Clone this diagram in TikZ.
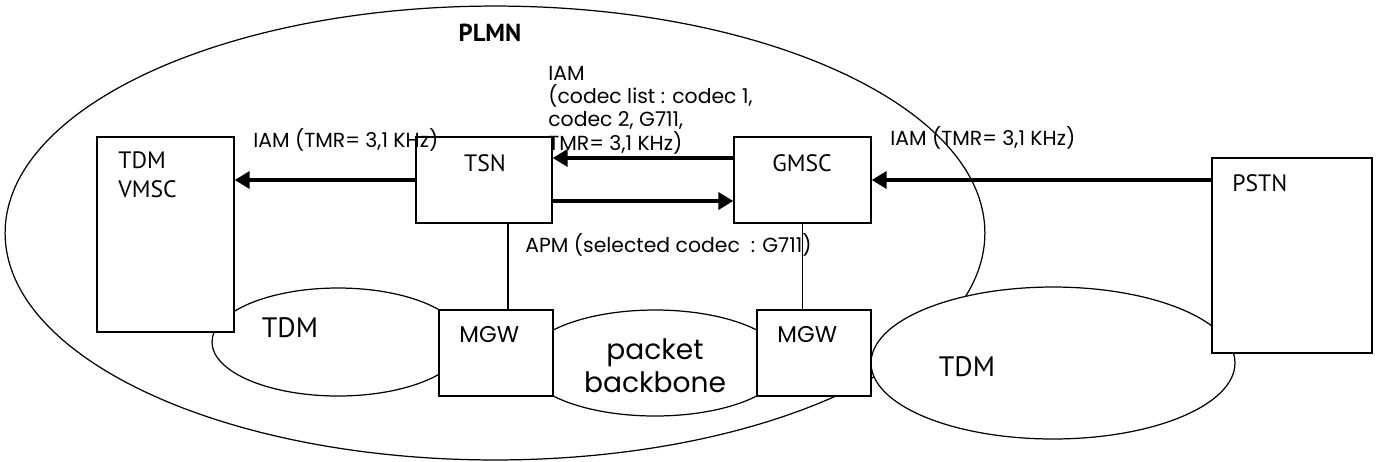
\documentclass[tikz,border=0pt]{standalone}
\usepackage{fontspec}
\setmainfont{Poppins}
\newfontfamily\condfont{PT Sans}
\usetikzlibrary{shapes.geometric, arrows.meta, positioning, calc}
\tikzset{
  unit/.style={rectangle, draw=black, fill=white, line width=0.8pt, inner sep=0pt},
  net/.style={ellipse, draw=black, fill=white, line width=0.7pt, inner sep=0pt},
  tag/.style={font=\condfont\fontsize{13.5}{16.5}\selectfont, align=left, inner sep=0pt},
  msg/.style={font=\fontsize{11.6}{13.2}\selectfont, align=left, inner sep=0pt, anchor=west},
  arrow/.style={-{Triangle[length=0.3cm, width=0.34cm]}, line width=2.8pt},
  link/.style={line width=0.6pt},
}
\begin{document}
\begin{tikzpicture}[x=0.02cm, y=-0.02cm]
\useasboundingbox (0,0) rectangle (1380,461);
\node[net, fill=none, minimum width=19.6cm, minimum height=9.08cm] (plmn) at (495,233) {};
\node[tag, font=\condfont\bfseries\fontsize{14}{16}\selectfont] (plmnt) at (490,33) {PLMN};
\node[net, minimum width=5.04cm, minimum height=2.16cm] (tdml) at (338,342) {};
\node[net, minimum width=5.2cm, minimum height=2.12cm] (pbb) at (655,363) {};
\node[net, minimum width=7.28cm, minimum height=3.04cm] (tdmr) at (1053,363) {};
\node[unit, minimum width=2.74cm, minimum height=3.9cm] (vmsc) at (165.5,234.5) {};
\node[unit, minimum width=2.72cm, minimum height=1.72cm] (tsn) at (484,180) {};
\node[unit, minimum width=2.74cm, minimum height=1.72cm] (gmsc) at (802.5,180) {};
\node[unit, minimum width=3.2cm, minimum height=3.9cm] (pstn) at (1292,255.5) {};
\node[unit, minimum width=2.28cm, minimum height=1.72cm] (mgwa) at (496,353) {};
\node[unit, minimum width=2.28cm, minimum height=1.72cm] (mgwb) at (814,353) {};
\node[tag, anchor=west] (vmsct) at (118,175) {TDM\\VMSC};
\node[tag] (tsnt) at (485,163) {TSN};
\node[tag] (gmsct) at (802,163) {GMSC};
\node[tag, anchor=west] (pstnt) at (1232,183) {PSTN};
\node[tag, font=\condfont\fontsize{16}{18}\selectfont] (tdmlt) at (290,328) {TDM};
\node[tag, font=\condfont\fontsize{16}{18}\selectfont] (tdmrt) at (967,367) {TDM};
\node[msg, font=\fontsize{13}{15}\selectfont] (mgwat) at (459,335) {MGW};
\node[msg, font=\fontsize{13}{15}\selectfont] (mgwbt) at (777,335) {MGW};
\node[msg, anchor=center, align=center, font=\fontsize{16}{19}\selectfont] (pbbt) at (655,366) {packet\\backbone};
\draw[arrow](tsn.west)--(tsn.west -| vmsc.east);
\draw[arrow]([yshift=0.44cm]gmsc.west)--([yshift=0.44cm]tsn.east);
\draw[arrow]([yshift=-0.42cm]tsn.east)--([yshift=-0.42cm]gmsc.west);
\draw[arrow](gmsc.east -| pstn.west)--(gmsc.east);
\draw[link]([xshift=0.48cm]tsn.south)--([xshift=0.48cm]tsn.south |- mgwa.north);
\draw[link](gmsc.south)--(gmsc.south |- mgwb.north);
\node[msg] (iama) at (253,140) {IAM (TMR= 3,1 KHz)};
\node[msg] (iamb) at (548,110) {IAM\\(codec list : codec 1,\\codec 2, G711,\\TMR= 3,1 KHz)};
\node[msg] (iamc) at (890,138) {IAM (TMR= 3,1 KHz)};
\node[msg] (apm) at (525,245) {APM (selected codec~\ : G711)};
\end{tikzpicture}
\end{document}
